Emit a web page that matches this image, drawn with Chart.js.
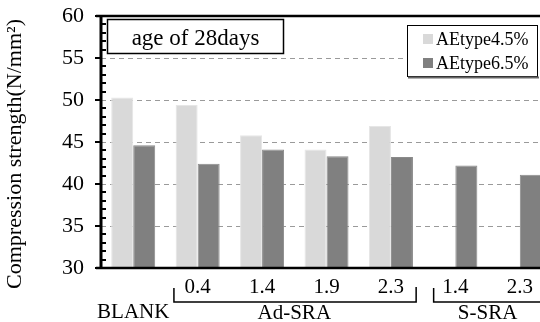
<!DOCTYPE html>
<html>
<head>
<meta charset="utf-8">
<script src="https://cdn.jsdelivr.net/npm/chart.js@4.4.1/dist/chart.umd.min.js"></script>
<style>
  html, body { margin: 0; padding: 0; background: #fff; overflow: hidden; }
  #wrap { position: relative; width: 560px; height: 322px; }
</style>
</head>
<body>
<div id="wrap"><canvas id="c"></canvas></div>
<script>
// Compression strength at 28 days, by admixture dosage
const categories = ['BLANK', '0.4', '1.4', '1.9', '2.3', '1.4', '2.3'];
const aeType45 = [50.3, 49.4, 45.8, 44.1, 46.9, null, null];
const aeType65 = [44.6, 42.4, 44.1, 43.3, 43.2, 42.2, 41.1];
const seriesNames = ['AEtype4.5%', 'AEtype6.5%'];
const yTicks = [30, 35, 40, 45, 50, 55, 60];
// group brackets under the axis: [label, first index, last index]
const groups = [['Ad-SRA', 1, 4], ['S-SRA', 5, 6]];
const boxTitle = 'age of 28days';
const yTitle = 'Compression strength(N/mm²)';

const FONT = '"Liberation Serif", "Times New Roman", serif';

const decor = {
  id: 'decor',
  beforeDatasetsDraw(chart) {
    const { ctx, chartArea: a, scales: { y } } = chart;
    ctx.save();
    // dashed gridlines
    ctx.strokeStyle = '#9a9a9a';
    ctx.lineWidth = 1;
    ctx.setLineDash([5, 4]);
    yTicks.slice(1, -1).forEach(v => {
      const py = Math.round(y.getPixelForValue(v)) + 0.5;
      ctx.beginPath();
      ctx.moveTo(a.left, py);
      ctx.lineTo(a.right, py);
      ctx.stroke();
    });
    ctx.restore();
  },
  afterDatasetsDraw(chart) {
    const { ctx, chartArea: a, scales: { x, y } } = chart;
    ctx.save();
    ctx.setLineDash([]);
    ctx.strokeStyle = '#000';
    // frame: left axis, bottom axis, top line
    ctx.lineWidth = 3;
    ctx.beginPath();
    ctx.moveTo(a.left, a.top);
    ctx.lineTo(a.left, a.bottom);
    ctx.stroke();
    ctx.lineWidth = 2.5;
    ctx.beginPath();
    ctx.moveTo(a.left - 5, a.bottom);
    ctx.lineTo(a.right, a.bottom);
    ctx.moveTo(a.left - 5, a.top);
    ctx.lineTo(a.right, a.top);
    ctx.stroke();
    // major ticks outward, minor ticks inward
    ctx.lineWidth = 2;
    for (let v = 30; v <= 60; v++) {
      const py = Math.round(y.getPixelForValue(v));
      ctx.beginPath();
      if (v % 5 === 0) { ctx.moveTo(a.left - 6, py); ctx.lineTo(a.left, py); }
      else { ctx.moveTo(a.left, py); ctx.lineTo(a.left + 5, py); }
      ctx.stroke();
    }

    // group brackets and group names
    const step = x.getPixelForValue(1) - x.getPixelForValue(0);
    ctx.lineWidth = 1.5;
    ctx.font = '21px ' + FONT;
    ctx.fillStyle = '#000';
    ctx.textAlign = 'center';
    ctx.textBaseline = 'middle';
    groups.forEach(([name, i0, i1], gi) => {
      const xl = x.getPixelForValue(i0) - step / 2 + (gi === 0 ? 8.5 : 10.5);
      const xr = x.getPixelForValue(i1) + step / 2 - 7;
      const yb = a.bottom + 34;
      ctx.beginPath();
      ctx.moveTo(xl, a.bottom + 20);
      ctx.lineTo(xl, yb);
      ctx.lineTo(xr, yb);
      ctx.lineTo(xr, a.bottom + 19);
      ctx.stroke();
      const cx = (x.getPixelForValue(i0) + x.getPixelForValue(i1)) / 2;
      ctx.fillText(name, cx, a.bottom + 45);
    });

    // y-axis title
    ctx.save();
    ctx.translate(15, 154);
    ctx.rotate(-Math.PI / 2);
    ctx.font = '22px ' + FONT;
    ctx.fillText(yTitle, 0, 0);
    ctx.restore();

    // title box
    ctx.lineWidth = 1.5;
    ctx.strokeRect(107.5, 19.5, 176, 34);
    ctx.font = '23px ' + FONT;
    ctx.fillText(boxTitle, 195.5, 38.5);

    // legend box
    ctx.fillStyle = '#fff';
    ctx.fillRect(407, 25, 130, 52);
    ctx.strokeStyle = '#000';
    ctx.lineWidth = 1;
    ctx.strokeRect(407.5, 25.5, 130, 51);
    ctx.strokeStyle = '#666';
    ctx.lineWidth = 2;
    ctx.beginPath();
    ctx.moveTo(408, 77.5);
    ctx.lineTo(539, 77.5);
    ctx.stroke();
    ctx.textAlign = 'left';
    ctx.font = '18px ' + FONT;
    chart.data.datasets.forEach((ds, i) => {
      const cy = 39 + i * 24;
      ctx.fillStyle = ds.backgroundColor;
      ctx.fillRect(423, cy - 5, 10, 10);
      ctx.fillStyle = '#000';
      ctx.fillText(ds.label, 436, cy + 1);
    });
    ctx.restore();
  }
};

new Chart(document.getElementById('c'), {
  type: 'bar',
  data: {
    labels: categories.map((c, i) => i === 0 ? ['', c] : c),
    datasets: [
      { label: seriesNames[0], data: aeType45, backgroundColor: '#d9d9d9', borderColor: '#e6e6e6', borderWidth: 1 },
      { label: seriesNames[1], data: aeType65, backgroundColor: '#808080', borderColor: '#8a8a8a', borderWidth: 1 }
    ]
  },
  options: {
    responsive: true,
    maintainAspectRatio: false,
    animation: false,
    devicePixelRatio: 1,
    layout: { padding: { left: 0, top: 16, right: 8, bottom: 0 } },
    datasets: { bar: { categoryPercentage: 0.683, barPercentage: 1 } },
    plugins: { legend: { display: false }, tooltip: { enabled: false } },
    scales: {
      x: {
        grid: { display: false, drawTicks: false },
        border: { display: false },
        ticks: {
          color: '#000', font: { family: FONT, size: 21, lineHeight: 1.2 },
          padding: 7, maxRotation: 0, autoSkip: false
        },
        afterFit(s) { s.height = 54; s.paddingLeft = 0; s.paddingRight = 0; }
      },
      y: {
        min: 30, max: 60,
        afterBuildTicks(s) { s.ticks = yTicks.map(v => ({ value: v })); },
        grid: { display: false, drawTicks: false },
        border: { display: false },
        ticks: { color: '#000', font: { family: FONT, size: 22 }, padding: 17 },
        afterFit(s) { s.width = 101; s.paddingTop = 0; s.paddingBottom = 0; }
      }
    }
  },
  plugins: [decor]
});
</script>
</body>
</html>
